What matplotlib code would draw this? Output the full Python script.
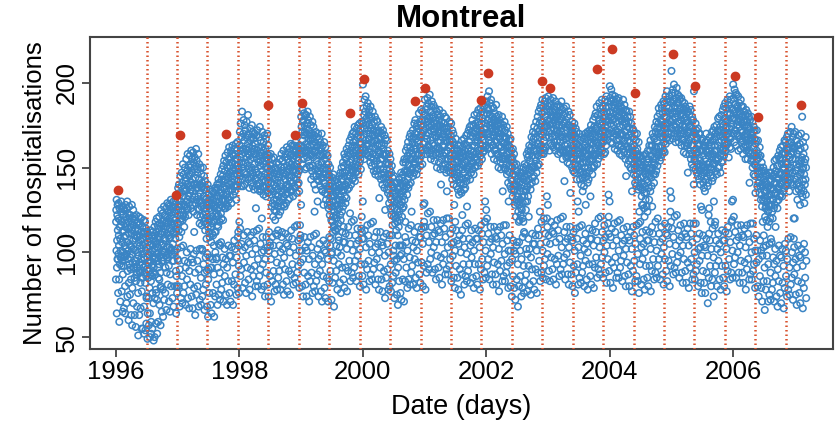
import numpy as np
import matplotlib.pyplot as plt

# Daily hospitalisations in Montreal, one list per calendar year.
# Each line holds two weeks (Mon..Sun, Mon..Sun).
y1996 = [84, 118, 125, 101, 131, 64, 91, 107, 122, 96, 128, 113, 96, 76,
         120, 99, 129, 110, 104, 84, 59, 126, 115, 93, 119, 108, 71, 97,
         101, 124, 116, 130, 97, 92, 77, 118, 106, 127, 95, 112, 65, 87,
         122, 100, 113, 126, 92, 67, 97, 109, 119, 98, 125, 104, 80, 64,
         115, 128, 102, 110, 121, 98, 70, 99, 117, 126, 106, 130, 74, 89,
         123, 96, 114, 101, 118, 60, 82, 111, 127, 93, 120, 105, 91, 75,
         97, 115, 122, 104, 90, 84, 63, 118, 103, 111, 128, 99, 57, 79,
         113, 94, 120, 107, 125, 70, 91, 102, 116, 91, 110, 121, 85, 63,
         119, 101, 93, 114, 108, 56, 83, 95, 122, 110, 87, 117, 88, 68,
         109, 91, 118, 100, 113, 76, 51, 116, 98, 106, 121, 89, 63, 89,
         94, 110, 104, 117, 88, 82, 67, 107, 120, 96, 102, 112, 55, 77,
         85, 108, 99, 115, 93, 55, 85, 104, 91, 112, 97, 119, 68, 52,
         111, 96, 105, 88, 118, 82, 54, 92, 109, 101, 114, 86, 58, 73,
         74, 103, 90, 112, 97, 49, 64, 106, 94, 85, 110, 99, 73, 57,
         89, 104, 98, 79, 108, 64, 50, 100, 87, 113, 95, 83, 52, 59,
         105, 92, 110, 86, 101, 55, 76, 97, 112, 88, 104, 93, 70, 48,
         91, 108, 102, 115, 96, 50, 73, 110, 97, 87, 106, 118, 78, 58,
         76, 112, 99, 105, 120, 72, 52, 103, 95, 116, 108, 91, 59, 85,
         114, 100, 109, 93, 121, 84, 69, 98, 117, 106, 111, 88, 57, 79,
         80, 111, 125, 104, 99, 65, 95, 116, 101, 112, 123, 95, 78, 62,
         105, 119, 97, 114, 127, 100, 72, 112, 100, 122, 108, 117, 76, 91,
         121, 107, 115, 98, 126, 66, 88, 103, 118, 111, 129, 96, 97, 81,
         117, 99, 124, 110, 128, 92, 71, 120, 108, 127, 103, 114, 65, 87,
         109, 125, 118, 131, 102, 80, 101, 122, 113, 99, 126, 116, 95, 73,
         127, 105, 120, 112, 130, 68, 95, 111, 124, 117, 101, 128, 100, 80,
         119, 130, 108, 123, 114, 89, 64, 125, 112, 86, 80, 117, 76, 102]
y1997 = [96, 131, 117, 138, 125, 95, 80, 113, 140, 127, 109, 135, 68, 90,
         134, 118, 145, 122, 130, 73, 103, 128, 112, 139, 147, 120, 86, 70,
         141, 125, 119, 152, 133, 104, 76, 122, 146, 136, 128, 115, 80, 95,
         127, 150, 138, 121, 144, 69, 91, 142, 130, 155, 126, 137, 100, 84,
         148, 125, 140, 158, 131, 94, 73, 133, 151, 122, 145, 139, 67, 89,
         129, 146, 157, 135, 150, 81, 102, 152, 137, 126, 160, 141, 96, 74,
         147, 131, 155, 143, 128, 67, 94, 136, 159, 140, 124, 153, 99, 79,
         112, 149, 133, 156, 140, 88, 63, 144, 129, 151, 138, 161, 75, 101,
         131, 154, 140, 122, 147, 95, 80, 149, 126, 138, 158, 133, 68, 90,
         125, 143, 152, 130, 117, 72, 102, 140, 121, 135, 150, 129, 85, 69,
         146, 127, 138, 116, 141, 102, 74, 101, 139, 128, 150, 122, 78, 93,
         133, 118, 145, 126, 137, 66, 88, 120, 142, 113, 131, 124, 97, 81,
         117, 138, 126, 108, 132, 89, 68, 128, 99, 121, 140, 115, 62, 84,
         90, 130, 119, 134, 112, 76, 97, 126, 109, 137, 120, 131, 91, 69,
         115, 133, 125, 106, 128, 64, 91, 129, 117, 111, 136, 121, 96, 76,
         110, 127, 135, 118, 104, 87, 62, 132, 119, 126, 112, 138, 74, 100,
         128, 112, 137, 123, 130, 96, 81, 97, 133, 121, 140, 116, 69, 91,
         138, 122, 115, 133, 143, 75, 105, 126, 141, 130, 118, 135, 88, 72,
         104, 137, 128, 146, 123, 106, 78, 135, 120, 143, 131, 149, 82, 97,
         127, 145, 138, 119, 151, 71, 93, 142, 130, 154, 126, 137, 102, 86,
         148, 131, 143, 157, 126, 96, 75, 139, 153, 128, 145, 134, 69, 91,
         132, 150, 159, 141, 127, 83, 104, 155, 136, 146, 131, 162, 98, 76,
         147, 133, 156, 140, 151, 71, 98, 137, 160, 145, 129, 153, 103, 83,
         158, 141, 137, 163, 148, 94, 69, 150, 134, 157, 145, 139, 81, 107,
         143, 161, 152, 136, 158, 102, 87, 155, 140, 164, 149, 131, 75, 97,
         160, 146, 139, 155, 165, 79, 109, 151, 142, 112, 104, 149, 92, 76]
y1998 = [118, 163, 147, 171, 156, 114, 86, 145, 176, 160, 139, 153, 90, 105,
         168, 150, 183, 158, 143, 79, 101, 161, 139, 170, 152, 178, 110, 94,
         147, 166, 159, 175, 140, 103, 82, 172, 153, 144, 168, 161, 76, 98,
         160, 177, 146, 156, 169, 91, 112, 151, 164, 181, 143, 158, 106, 84,
         170, 149, 162, 138, 157, 78, 105, 144, 173, 155, 166, 148, 110, 90,
         159, 141, 168, 150, 175, 99, 74, 163, 147, 139, 171, 156, 86, 112,
         145, 167, 158, 137, 161, 107, 92, 170, 152, 143, 164, 149, 80, 102,
         126, 158, 147, 169, 140, 83, 113, 155, 172, 144, 160, 137, 96, 80,
         162, 139, 153, 146, 168, 114, 86, 141, 157, 174, 136, 151, 90, 105,
         154, 166, 137, 159, 145, 78, 100, 120, 162, 148, 171, 139, 109, 93,
         143, 160, 152, 134, 165, 101, 80, 157, 138, 169, 146, 154, 74, 96,
         161, 142, 150, 167, 133, 88, 109, 139, 156, 144, 158, 170, 103, 81,
         150, 135, 163, 141, 155, 74, 101, 144, 112, 157, 138, 148, 106, 86,
         104, 151, 137, 146, 158, 96, 71, 134, 149, 141, 127, 155, 83, 109,
         145, 129, 152, 136, 121, 104, 89, 140, 156, 131, 147, 125, 77, 99,
         128, 143, 119, 150, 134, 81, 111, 139, 124, 146, 131, 153, 94, 78,
         110, 141, 127, 148, 137, 113, 85, 133, 152, 122, 144, 129, 89, 104,
         146, 130, 155, 139, 124, 78, 100, 141, 127, 150, 136, 158, 109, 93,
         112, 148, 135, 154, 131, 102, 81, 145, 133, 160, 128, 147, 75, 97,
         150, 137, 127, 156, 143, 90, 111, 134, 158, 146, 139, 129, 105, 83,
         148, 162, 135, 151, 140, 77, 104, 155, 138, 149, 131, 159, 109, 89,
         139, 153, 161, 144, 132, 100, 75, 157, 142, 150, 164, 137, 87, 113,
         152, 136, 158, 145, 163, 108, 93, 141, 155, 148, 133, 160, 81, 103,
         157, 144, 163, 139, 151, 85, 115, 149, 138, 159, 147, 165, 98, 82,
         143, 160, 152, 135, 156, 116, 88, 162, 146, 140, 158, 150, 92, 107,
         154, 141, 163, 148, 136, 79, 101, 158, 149, 116, 108, 160, 110, 94]
y1999 = [128, 180, 163, 174, 158, 101, 80, 171, 152, 184, 166, 177, 74, 96,
         162, 178, 155, 182, 169, 88, 109, 175, 160, 171, 149, 181, 103, 81,
         159, 173, 181, 164, 150, 74, 101, 170, 156, 176, 162, 183, 106, 86,
         178, 154, 167, 160, 172, 96, 71, 151, 169, 158, 180, 163, 83, 109,
         166, 150, 175, 157, 143, 103, 88, 170, 158, 148, 167, 177, 76, 98,
         151, 167, 156, 174, 145, 80, 110, 163, 140, 169, 124, 159, 93, 77,
         165, 149, 160, 137, 171, 111, 83, 145, 162, 154, 168, 143, 87, 102,
         130, 163, 148, 170, 152, 74, 96, 160, 142, 157, 146, 167, 105, 89,
         148, 165, 139, 158, 150, 98, 77, 161, 144, 153, 170, 137, 71, 93,
         157, 136, 149, 163, 144, 86, 107, 128, 158, 146, 141, 165, 101, 79,
         141, 155, 135, 150, 162, 73, 100, 146, 131, 158, 139, 152, 105, 85,
         149, 134, 144, 157, 128, 96, 71, 137, 152, 126, 146, 139, 83, 109,
         130, 145, 122, 139, 150, 104, 89, 128, 108, 141, 133, 119, 72, 99,
         100, 139, 127, 118, 144, 82, 112, 134, 121, 146, 130, 115, 95, 68,
         124, 138, 116, 133, 142, 113, 85, 127, 113, 135, 122, 139, 89, 104,
         136, 120, 143, 128, 114, 78, 100, 125, 141, 131, 117, 137, 109, 93,
         107, 140, 126, 145, 131, 103, 82, 138, 122, 147, 133, 119, 76, 98,
         143, 129, 150, 136, 124, 91, 112, 131, 147, 139, 153, 127, 106, 84,
         115, 151, 137, 145, 158, 79, 106, 147, 133, 156, 140, 129, 111, 91,
         139, 155, 148, 132, 161, 102, 77, 152, 141, 137, 159, 145, 89, 115,
         157, 142, 163, 150, 138, 110, 95, 145, 166, 153, 123, 158, 83, 105,
         160, 147, 140, 168, 155, 88, 118, 151, 162, 143, 170, 149, 101, 85,
         148, 165, 159, 144, 171, 119, 91, 163, 150, 174, 157, 142, 95, 110,
         166, 152, 147, 170, 160, 83, 105, 155, 173, 162, 148, 168, 114, 98,
         151, 169, 175, 158, 146, 107, 86, 171, 157, 164, 176, 153, 80, 102,
         168, 155, 173, 160, 149, 93, 114, 164, 177, 121, 112, 158, 108, 86]
y2000 = [130, 199, 176, 162, 185, 81, 108, 168, 181, 155, 173, 190, 113, 93,
         183, 160, 175, 192, 166, 103, 78, 158, 179, 170, 186, 163, 90, 116,
         177, 164, 188, 157, 172, 110, 95, 181, 167, 159, 175, 184, 83, 105,
         161, 179, 170, 153, 186, 87, 117, 173, 156, 180, 165, 151, 100, 84,
         175, 158, 169, 183, 162, 118, 90, 155, 172, 148, 177, 166, 94, 109,
         169, 152, 180, 161, 146, 81, 103, 171, 157, 166, 148, 178, 112, 96,
         154, 170, 163, 177, 149, 105, 84, 167, 145, 159, 172, 160, 78, 100,
         132, 164, 152, 171, 158, 91, 112, 149, 168, 155, 143, 174, 106, 84,
         163, 146, 170, 155, 140, 77, 104, 158, 172, 149, 161, 144, 109, 89,
         147, 164, 138, 157, 169, 98, 73, 125, 152, 167, 144, 158, 85, 111,
         158, 141, 153, 166, 137, 105, 90, 146, 160, 135, 152, 143, 78, 100,
         137, 152, 129, 146, 158, 80, 110, 149, 133, 141, 155, 126, 93, 77,
         131, 147, 122, 140, 151, 110, 82, 135, 116, 144, 127, 139, 86, 101,
         98, 138, 121, 145, 130, 73, 95, 126, 141, 117, 133, 122, 104, 88,
         120, 135, 113, 129, 141, 96, 75, 131, 118, 125, 138, 110, 69, 91,
         137, 122, 131, 115, 143, 83, 104, 124, 139, 128, 119, 134, 98, 76,
         104, 141, 128, 147, 135, 72, 99, 130, 121, 144, 136, 126, 104, 84,
         146, 133, 153, 139, 127, 96, 71, 142, 155, 131, 148, 137, 83, 109,
         118, 153, 141, 160, 147, 106, 91, 139, 155, 148, 134, 162, 79, 101,
         157, 143, 165, 151, 138, 84, 114, 152, 140, 159, 147, 168, 97, 81,
         146, 162, 155, 170, 141, 116, 88, 160, 149, 124, 167, 155, 92, 107,
         165, 150, 172, 158, 145, 81, 103, 153, 168, 161, 147, 176, 112, 96,
         152, 170, 163, 178, 155, 106, 85, 167, 150, 174, 161, 146, 79, 101,
         171, 157, 149, 176, 165, 94, 115, 158, 173, 166, 182, 154, 109, 87,
         168, 155, 177, 162, 151, 82, 109, 175, 160, 184, 169, 157, 114, 94,
         160, 178, 170, 152, 183, 105, 80, 171, 164, 128, 115, 172, 92, 118]
y2001 = [129, 178, 190, 165, 181, 115, 78, 173, 158, 184, 169, 161, 88, 110,
         186, 167, 179, 160, 191, 93, 123, 175, 188, 163, 177, 170, 106, 90,
         162, 180, 174, 193, 158, 124, 96, 183, 166, 172, 155, 186, 100, 115,
         175, 160, 189, 168, 179, 88, 110, 164, 181, 157, 173, 187, 119, 103,
         180, 163, 171, 154, 176, 111, 90, 169, 185, 161, 178, 158, 84, 106,
         159, 176, 168, 183, 150, 98, 119, 174, 162, 181, 165, 171, 113, 91,
         170, 153, 178, 161, 184, 85, 112, 158, 175, 166, 149, 180, 117, 97,
         140, 172, 160, 177, 155, 106, 81, 168, 151, 174, 163, 182, 93, 119,
         157, 170, 149, 176, 162, 114, 99, 173, 159, 166, 180, 152, 87, 109,
         168, 155, 173, 147, 179, 90, 120, 136, 171, 160, 165, 150, 103, 87,
         155, 174, 162, 148, 170, 120, 92, 166, 151, 177, 157, 163, 96, 111,
         163, 147, 169, 155, 176, 83, 105, 150, 166, 158, 143, 172, 114, 98,
         148, 165, 152, 170, 140, 106, 85, 160, 128, 163, 146, 157, 79, 101,
         118, 158, 144, 167, 150, 92, 113, 155, 139, 161, 147, 153, 107, 85,
         145, 160, 137, 154, 163, 78, 105, 149, 134, 158, 143, 156, 110, 90,
         157, 141, 163, 150, 136, 100, 75, 144, 159, 135, 152, 166, 87, 113,
         122, 156, 143, 162, 149, 108, 93, 158, 140, 151, 167, 137, 81, 103,
         147, 164, 153, 138, 160, 86, 116, 157, 144, 169, 150, 142, 99, 83,
         127, 163, 149, 170, 155, 117, 89, 161, 145, 158, 172, 150, 93, 108,
         165, 151, 174, 156, 143, 82, 104, 152, 169, 160, 147, 175, 113, 97,
         154, 171, 163, 149, 178, 106, 85, 168, 153, 175, 159, 146, 79, 101,
         170, 156, 181, 163, 150, 93, 114, 158, 176, 165, 151, 171, 108, 86,
         173, 159, 168, 182, 155, 81, 108, 166, 151, 177, 160, 184, 113, 93,
         158, 175, 169, 153, 180, 103, 78, 172, 164, 185, 157, 170, 90, 116,
         176, 161, 183, 168, 155, 111, 96, 163, 179, 170, 188, 159, 84, 106,
         181, 166, 173, 160, 186, 88, 118, 170, 162, 130, 118, 176, 101, 85]
y2002 = [125, 189, 174, 163, 182, 120, 92, 170, 192, 161, 178, 185, 96, 111,
         184, 166, 179, 195, 170, 84, 106, 162, 181, 175, 188, 168, 115, 99,
         177, 190, 165, 173, 158, 108, 87, 186, 171, 180, 163, 176, 81, 103,
         163, 178, 185, 169, 155, 94, 115, 175, 160, 182, 171, 166, 109, 87,
         177, 161, 172, 187, 158, 81, 108, 165, 180, 154, 171, 176, 113, 93,
         158, 175, 168, 150, 181, 102, 77, 172, 163, 178, 156, 167, 89, 115,
         170, 153, 176, 162, 149, 110, 95, 159, 173, 165, 180, 155, 83, 105,
         136, 168, 155, 175, 160, 86, 116, 164, 150, 171, 157, 177, 99, 83,
         155, 172, 149, 163, 168, 116, 88, 167, 152, 158, 174, 146, 92, 107,
         162, 148, 170, 155, 141, 79, 101, 130, 163, 151, 166, 158, 110, 94,
         147, 162, 139, 156, 167, 101, 80, 151, 143, 160, 137, 155, 74, 96,
         142, 156, 150, 133, 161, 86, 107, 146, 137, 153, 140, 158, 101, 79,
         136, 151, 128, 145, 139, 72, 99, 148, 121, 140, 131, 152, 104, 84,
         106, 143, 129, 148, 133, 93, 68, 139, 124, 145, 130, 118, 80, 106,
         128, 141, 119, 136, 147, 101, 86, 131, 122, 138, 145, 126, 74, 96,
         140, 125, 147, 133, 120, 79, 109, 129, 143, 136, 118, 150, 92, 76,
         112, 145, 133, 152, 139, 111, 83, 144, 130, 149, 136, 125, 87, 102,
         151, 137, 158, 142, 130, 77, 99, 139, 156, 146, 133, 160, 108, 92,
         121, 157, 143, 163, 149, 102, 81, 154, 140, 160, 147, 137, 75, 97,
         162, 148, 168, 152, 141, 90, 111, 150, 165, 157, 144, 171, 105, 83,
         151, 167, 160, 145, 174, 78, 105, 163, 150, 170, 156, 142, 110, 90,
         168, 154, 177, 160, 147, 101, 76, 158, 173, 164, 151, 180, 88, 114,
         171, 157, 164, 183, 152, 110, 95, 162, 176, 168, 124, 185, 83, 105,
         160, 178, 170, 187, 163, 88, 118, 174, 158, 182, 169, 190, 101, 85,
         177, 162, 186, 171, 158, 120, 92, 166, 183, 174, 160, 189, 96, 111,
         180, 168, 191, 174, 162, 84, 106, 175, 184, 133, 120, 178, 115, 99]
y2003 = [128, 186, 171, 192, 177, 110, 89, 168, 183, 175, 160, 188, 83, 105,
         179, 164, 190, 172, 184, 97, 118, 187, 170, 163, 181, 176, 112, 90,
         168, 183, 176, 191, 162, 84, 111, 180, 173, 186, 165, 178, 116, 96,
         184, 169, 160, 178, 189, 106, 81, 171, 186, 175, 163, 181, 93, 119,
         166, 180, 172, 187, 158, 113, 98, 177, 162, 183, 170, 175, 86, 108,
         182, 165, 178, 159, 186, 90, 120, 168, 179, 171, 189, 161, 103, 87,
         175, 160, 184, 168, 155, 121, 93, 166, 181, 159, 176, 185, 97, 112,
         142, 177, 163, 182, 170, 84, 106, 159, 174, 167, 186, 156, 115, 99,
         172, 157, 180, 164, 153, 108, 87, 175, 161, 168, 183, 158, 81, 103,
         160, 175, 152, 169, 181, 94, 115, 135, 170, 158, 174, 163, 109, 87,
         171, 156, 168, 150, 177, 80, 107, 160, 174, 163, 148, 169, 112, 92,
         155, 170, 162, 176, 147, 101, 76, 168, 152, 165, 157, 173, 88, 114,
         164, 149, 171, 155, 143, 108, 93, 160, 130, 167, 151, 158, 81, 103,
         124, 163, 149, 170, 155, 85, 115, 158, 143, 166, 152, 147, 98, 82,
         148, 161, 140, 157, 168, 116, 88, 153, 144, 162, 136, 159, 92, 107,
         160, 146, 153, 167, 139, 80, 102, 150, 163, 144, 158, 170, 111, 95,
         128, 160, 147, 168, 153, 105, 84, 162, 145, 157, 171, 141, 78, 100,
         150, 166, 158, 143, 170, 93, 114, 161, 148, 172, 155, 164, 108, 86,
         133, 168, 154, 175, 160, 81, 108, 165, 150, 172, 157, 146, 113, 93,
         170, 155, 178, 164, 150, 104, 79, 158, 174, 166, 151, 180, 91, 117,
         157, 173, 161, 182, 168, 112, 97, 172, 158, 186, 165, 152, 85, 107,
         174, 160, 181, 168, 155, 90, 120, 163, 178, 170, 188, 159, 103, 87,
         176, 161, 170, 185, 157, 121, 93, 168, 182, 164, 175, 190, 97, 112,
         160, 177, 171, 186, 165, 85, 107, 179, 166, 183, 172, 158, 116, 100,
         181, 168, 174, 159, 190, 109, 88, 171, 185, 163, 177, 192, 82, 104,
         166, 182, 175, 189, 170, 96, 117, 178, 186, 134, 121, 180, 111, 89]
y2004 = [130, 198, 183, 170, 191, 82, 109, 176, 189, 165, 196, 180, 114, 94,
         186, 171, 193, 178, 164, 104, 79, 182, 168, 190, 175, 187, 91, 117,
         170, 185, 179, 161, 192, 112, 97, 177, 188, 172, 183, 166, 85, 107,
         184, 169, 190, 176, 160, 88, 118, 171, 186, 163, 180, 191, 101, 85,
         167, 181, 174, 188, 158, 119, 91, 183, 170, 179, 162, 186, 95, 110,
         178, 163, 185, 170, 157, 83, 105, 169, 182, 175, 190, 161, 114, 98,
         181, 166, 159, 177, 187, 107, 86, 164, 179, 171, 155, 184, 80, 102,
         145, 176, 162, 183, 168, 94, 115, 174, 158, 180, 166, 152, 109, 87,
         161, 177, 169, 154, 183, 80, 107, 173, 159, 165, 180, 150, 112, 92,
         170, 155, 176, 162, 149, 102, 77, 136, 168, 157, 173, 160, 89, 115,
         152, 172, 158, 146, 167, 110, 95, 163, 149, 170, 155, 141, 83, 105,
         160, 145, 166, 151, 139, 86, 116, 157, 170, 146, 161, 152, 99, 83,
         143, 158, 137, 153, 165, 117, 76, 148, 124, 156, 139, 150, 93, 108,
         118, 152, 138, 157, 144, 81, 103, 141, 133, 150, 128, 155, 112, 96,
         137, 151, 128, 145, 157, 105, 84, 140, 126, 148, 135, 121, 78, 100,
         152, 139, 146, 131, 158, 92, 113, 135, 150, 127, 143, 155, 107, 85,
         124, 153, 141, 160, 146, 80, 107, 155, 138, 149, 131, 163, 112, 92,
         145, 160, 150, 136, 166, 102, 77, 157, 144, 163, 148, 139, 89, 115,
         127, 163, 150, 170, 155, 111, 96, 160, 146, 168, 153, 141, 84, 106,
         167, 152, 174, 159, 146, 88, 118, 155, 171, 162, 148, 177, 101, 85,
         158, 173, 166, 151, 180, 120, 92, 170, 157, 176, 162, 185, 96, 111,
         174, 159, 182, 168, 154, 84, 106, 162, 178, 170, 156, 187, 115, 99,
         177, 163, 185, 171, 158, 108, 87, 168, 182, 175, 189, 160, 81, 103,
         165, 180, 173, 188, 159, 96, 117, 183, 170, 192, 176, 164, 111, 89,
         180, 167, 186, 173, 195, 83, 110, 176, 190, 168, 183, 171, 115, 95,
         170, 185, 178, 192, 166, 105, 80, 182, 189, 136, 124, 177, 92, 118]
y2005 = [132, 207, 188, 173, 194, 114, 99, 182, 167, 196, 178, 189, 87, 109,
         190, 175, 199, 183, 170, 91, 121, 186, 194, 172, 180, 165, 104, 88,
         174, 191, 182, 168, 197, 122, 94, 185, 170, 188, 177, 193, 98, 113,
         188, 172, 183, 165, 192, 85, 107, 176, 190, 169, 185, 181, 116, 100,
         170, 185, 178, 191, 163, 109, 88, 182, 167, 189, 175, 172, 82, 104,
         181, 166, 184, 170, 159, 96, 117, 174, 188, 163, 179, 186, 111, 89,
         165, 180, 174, 158, 185, 82, 109, 178, 163, 169, 183, 171, 114, 94,
         147, 177, 164, 183, 170, 104, 79, 166, 181, 158, 174, 186, 91, 117,
         175, 160, 171, 184, 155, 111, 96, 163, 178, 168, 152, 180, 84, 106,
         158, 173, 163, 178, 150, 87, 117, 140, 195, 160, 171, 155, 100, 84,
         170, 154, 166, 149, 176, 117, 89, 158, 172, 161, 147, 168, 93, 108,
         152, 167, 159, 173, 145, 80, 102, 164, 150, 170, 156, 143, 111, 95,
         163, 148, 170, 154, 140, 103, 82, 151, 127, 160, 145, 166, 76, 98,
         125, 160, 146, 167, 152, 89, 110, 157, 141, 163, 150, 138, 104, 82,
         147, 162, 150, 136, 165, 76, 103, 155, 143, 160, 148, 170, 108, 88,
         159, 145, 166, 152, 139, 98, 70, 150, 163, 141, 157, 122, 85, 111,
         126, 160, 147, 168, 153, 107, 92, 158, 145, 165, 118, 150, 80, 102,
         163, 149, 171, 156, 142, 84, 114, 152, 166, 158, 144, 172, 97, 74,
         130, 167, 152, 174, 160, 116, 88, 163, 118, 170, 155, 148, 92, 107,
         168, 154, 175, 160, 146, 80, 102, 156, 172, 163, 150, 179, 111, 95,
         155, 171, 165, 150, 180, 105, 84, 169, 157, 174, 161, 147, 78, 100,
         172, 158, 181, 166, 153, 92, 113, 160, 176, 168, 154, 184, 107, 85,
         175, 161, 170, 186, 157, 80, 107, 165, 179, 171, 160, 188, 112, 92,
         160, 177, 169, 185, 163, 102, 77, 174, 164, 182, 170, 190, 89, 115,
         178, 165, 187, 170, 156, 111, 96, 168, 181, 173, 192, 162, 84, 106,
         182, 167, 176, 190, 161, 88, 118, 174, 185, 130, 119, 179, 101, 85]
y2006 = [131, 199, 184, 170, 191, 121, 93, 179, 165, 196, 183, 172, 97, 112,
         187, 172, 194, 178, 163, 85, 107, 181, 193, 170, 186, 175, 116, 100,
         169, 185, 177, 192, 160, 109, 88, 183, 168, 188, 174, 181, 82, 104,
         182, 167, 178, 161, 190, 95, 116, 172, 186, 165, 180, 176, 110, 88,
         166, 180, 171, 186, 158, 82, 109, 177, 162, 183, 169, 174, 114, 94,
         178, 163, 181, 168, 155, 103, 78, 170, 184, 160, 175, 166, 90, 116,
         162, 177, 170, 155, 182, 111, 96, 174, 159, 167, 180, 164, 84, 106,
         141, 173, 160, 178, 166, 87, 117, 158, 171, 154, 167, 180, 100, 84,
         169, 155, 166, 177, 150, 117, 89, 157, 171, 162, 146, 174, 93, 108,
         152, 167, 158, 172, 145, 79, 101, 135, 164, 151, 166, 157, 110, 94,
         160, 172, 155, 150, 139, 101, 80, 155, 166, 146, 158, 141, 74, 96,
         141, 156, 148, 135, 162, 86, 107, 150, 139, 157, 144, 131, 101, 79,
         148, 134, 153, 140, 127, 71, 98, 139, 118, 145, 131, 150, 103, 83,
         110, 143, 130, 148, 136, 91, 66, 132, 121, 140, 126, 145, 78, 104,
         127, 141, 119, 136, 146, 98, 83, 130, 138, 115, 133, 124, 71, 93,
         139, 125, 134, 147, 118, 75, 105, 128, 143, 131, 120, 137, 88, 72,
         108, 142, 128, 147, 134, 106, 78, 138, 124, 145, 131, 120, 82, 97,
         145, 131, 150, 137, 126, 71, 93, 141, 154, 128, 146, 135, 102, 86,
         115, 148, 135, 155, 141, 95, 74, 144, 130, 151, 138, 126, 68, 90,
         151, 137, 157, 143, 131, 83, 104, 139, 155, 146, 133, 160, 98, 76,
         140, 156, 147, 134, 162, 70, 97, 152, 141, 158, 146, 133, 102, 82,
         155, 142, 163, 149, 136, 92, 67, 145, 159, 150, 138, 166, 79, 105,
         158, 143, 165, 152, 139, 101, 86, 147, 161, 153, 140, 168, 74, 96,
         144, 160, 152, 170, 141, 78, 108, 157, 146, 164, 150, 136, 91, 75,
         162, 148, 156, 143, 171, 109, 81, 150, 165, 141, 158, 174, 85, 100,
         147, 163, 155, 140, 168, 72, 94, 159, 170, 120, 108, 161, 103, 87]
y2007 = [120, 162, 143, 171, 155, 96, 75, 148, 136, 166, 152, 140, 69, 91,
         158, 145, 131, 163, 150, 83, 104, 141, 169, 154, 137, 160, 98, 76,
         152, 139, 164, 146, 128, 70, 97, 161, 147, 135, 170, 154, 102, 82,
         138, 156, 180, 149, 133, 92, 67, 165, 150, 142, 158, 136, 79, 105,
         146, 129, 153, 162, 140, 100, 85, 155, 143, 168, 134, 150, 73, 95]

years = [1996, 1997, 1998, 1999, 2000, 2001, 2002, 2003, 2004, 2005, 2006, 2007]
yearly = [y1996, y1997, y1998, y1999, y2000, y2001, y2002, y2003, y2004,
          y2005, y2006, y2007]

# maximum of each 180-day window, and the window boundaries (decimal years)
peak_dates = [1996.04, 1996.97, 1997.04, 1997.78, 1998.46, 1998.90, 1999.02,
              1999.79, 2000.02, 2000.85, 2001.01, 2001.92, 2002.03, 2002.91,
              2003.03, 2003.80, 2004.04, 2004.41, 2005.03, 2005.38, 2006.04,
              2006.41, 2007.11]
peak_values = [136.5, 134, 169, 170, 187, 169, 188, 182, 202, 189, 197, 190,
               206, 201, 197, 208, 220, 194, 217, 198, 204, 180, 187]
window_edges = [1996.497, 1996.990, 1997.483, 1997.976, 1998.470, 1998.963,
                1999.456, 1999.949, 2000.443, 2000.936, 2001.429, 2001.922,
                2002.415, 2002.909, 2003.402, 2003.895, 2004.388, 2004.881,
                2005.375, 2005.868, 2006.361, 2006.854]

x_ticks = [1996, 1998, 2000, 2002, 2004, 2006]
y_ticks = [50, 100, 150, 200]

# decimal-year position of every daily reading
dates, counts = [], []
for yr, vals in zip(years, yearly):
    dates.extend(yr + np.arange(len(vals)) / 365.25)
    counts.extend(vals)

plt.rcParams['font.family'] = 'Liberation Sans'
plt.rcParams['font.size'] = 18.5

fig = plt.figure(figsize=(8.39, 4.22), dpi=100)
ax = fig.add_axes([0.1073, 0.173, 0.8855, 0.7393])

ax.scatter(dates, counts, s=22, facecolors='none', edgecolors='#3a84c4',
           linewidths=1.1, zorder=2)
for e in window_edges:
    ax.axvline(e, color='#d9532f', lw=1.8, ls=(0, (0.6, 1.2)), zorder=3)
ax.scatter(peak_dates, peak_values, s=36, color='#cc3a22', zorder=4)

ax.set_xlim(1995.58, 2007.62)
ax.set_ylim(43, 227)
ax.set_xticks(x_ticks)
ax.set_yticks(y_ticks)
ax.set_yticklabels([str(v) for v in y_ticks], rotation=90, va='center')

for sp in ax.spines.values():
    sp.set_color('#444444')
    sp.set_linewidth(1.5)
ax.tick_params(direction='out', length=5.8, width=1.3, color='#444444', pad=2)

ax.set_title('Montreal', fontsize=22.5, fontweight='bold', pad=7)
ax.set_xlabel('Date (days)', fontsize=19.5, labelpad=7)
ax.set_ylabel('Number of hospitalisations', labelpad=6)

fig.savefig('out.png', dpi=100)
